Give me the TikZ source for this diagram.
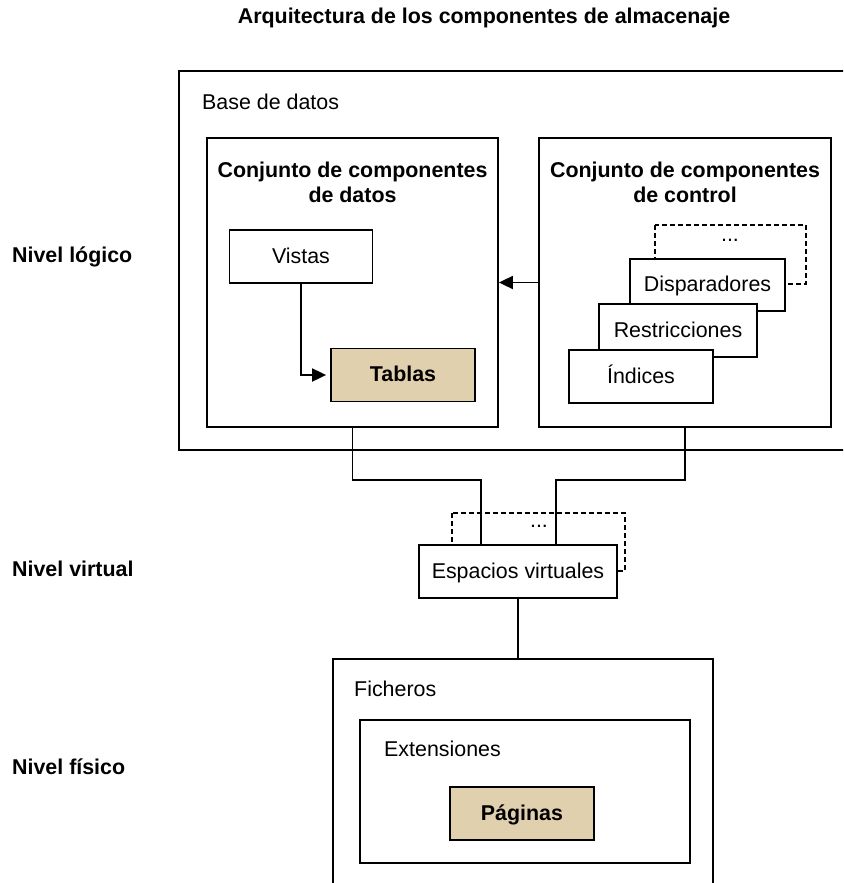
\documentclass[tikz,border=0pt]{standalone}
\usepackage{fontspec}
\setmainfont{Liberation Sans}
\usetikzlibrary{arrows.meta}
\definecolor{tan}{RGB}{224,208,174}
\begin{document}
\begin{tikzpicture}[x=1pt,y=-1pt,
  every node/.style={font=\fontsize{21.4}{25}\selectfont},
  line/.style={line width=1.8pt},
  box/.style={draw,line width=1.8pt,fill=white,inner sep=0pt,text height=16.5pt,text depth=3.5pt},
  tanbox/.style={box,fill=tan,font=\fontsize{21.4}{25}\selectfont\bfseries},
  dashbox/.style={draw,line width=1.6pt,dash pattern=on 5pt off 3pt},
  lbl/.style={anchor=west,inner sep=0pt,text height=16.5pt,text depth=3.5pt},
  head/.style={font=\fontsize{21.4}{25}\selectfont\bfseries,align=center,inner sep=0pt},
  level/.style={font=\fontsize{21.4}{25}\selectfont\bfseries,anchor=west,inner sep=0pt,text height=16.5pt,text depth=3.5pt},
  arr/.style={line,-{Triangle[length=14pt,width=13pt]}}]
\useasboundingbox (0,0) rectangle (843,883);
\clip (0,0) rectangle (843,883);

% title and level labels
\node[head] (title) at (484,18) {Arquitectura de los componentes de almacenaje};
\node[level] (logico) at (12,256) {Nivel lógico};
\node[level] (virtual) at (12,570) {Nivel virtual};
\node[level] (fisico) at (12,768) {Nivel físico};

% database container (runs past the right edge)
\draw[line] (179,71) rectangle (900,450);
\node[lbl] (bd) at (202,103) {Base de datos};

% data components
\node[box,minimum width=291pt,minimum height=289pt] (datos) at (352.5,282.5) {};
\node[head] (datost) at (352.5,182.5) {Conjunto de componentes\\de datos};
\node[box,minimum width=143pt,minimum height=53pt] (vistas) at (301,256.5) {Vistas};
\node[tanbox,minimum width=144pt,minimum height=53pt] (tablas) at (403,375) {Tablas};
\draw[arr,shorten >=4pt] (vistas.south) |- (tablas.west);

% control components
\node[box,minimum width=292pt,minimum height=289pt] (ctrl) at (685,282.5) {};
\node[head] (ctrlt) at (685,182.5) {Conjunto de componentes\\de control};
\draw[dashbox] (655,225) rectangle (806,284);
\node[inner sep=0pt] (dots1) at (730,240) {...};
\node[box,minimum width=155pt,minimum height=52pt] (disp) at (707.5,285) {Disparadores};
\node[box,minimum width=158pt,minimum height=53pt] (restr) at (678,330.5) {Restricciones};
\node[box,minimum width=144pt,minimum height=53pt] (indices) at (641,376.5) {Índices};
\draw[arr] (ctrl.west) -- (datos.east);

% virtual spaces
\draw[dashbox] (452,513) rectangle (625,571);
\node[inner sep=0pt] (dots2) at (539,526) {...};
\coordinate (espL) at (481,480);
\coordinate (espR) at (556,480);
\node[box,minimum width=198pt,minimum height=53pt] (esp) at (518,571.5) {Espacios virtuales};
\draw[line] (datos.south) |- (espL) -- (espL |- esp.north);
\draw[line] (ctrl.south) |- (espR) -- (espR |- esp.north);

% physical files
\draw[line] (333,659) rectangle (713,900);
\coordinate (fichtop) at (523,659);
\node[lbl] (fich) at (354,690) {Ficheros};
\draw[line] (360,720) rectangle (690,863);
\node[lbl] (ext) at (384,750) {Extensiones};
\node[tanbox,minimum width=144pt,minimum height=53pt] (pag) at (522,813.5) {Páginas};
\draw[line] (esp.south) -- (esp.south |- fichtop);
\end{tikzpicture}
\end{document}
